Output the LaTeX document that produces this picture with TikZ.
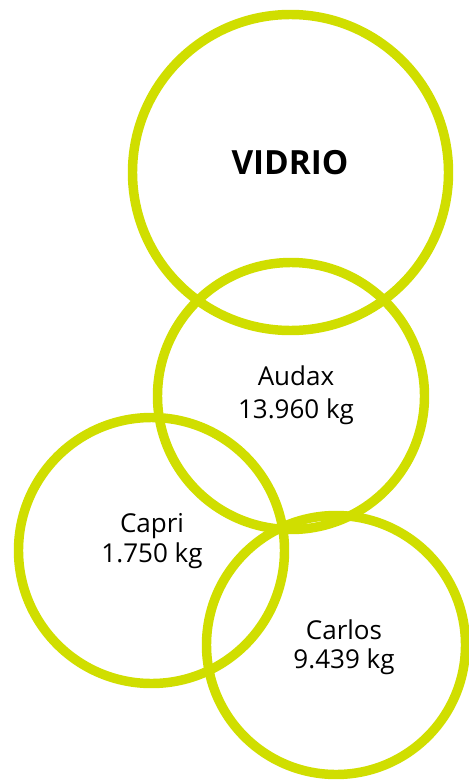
\documentclass[tikz,border=0pt]{standalone}
\usepackage{fontspec}
\setmainfont{Open Sans}
\definecolor{vidriogreen}{RGB}{208,222,0}
\tikzset{
    ring/.style={draw=vidriogreen, line width=7.1pt, circle, inner sep=0pt},
    amount/.style={align=center, font=\fontsize{19.5}{22}\selectfont}
}

\begin{document}
\begin{tikzpicture}[x=0.75pt,y=-0.75pt]
\useasboundingbox (0,0) rectangle (468,781);

\node[ring, minimum size=237pt] (vidrio) at (290.5,172.5) {};
\node[ring, minimum size=200.25pt] (audax) at (291,396) {};
\node[ring, minimum size=199.5pt] (capri) at (151.5,550.5) {};
\node[ring, minimum size=194.25pt] (carlos) at (336,645) {};

\node[font=\fontsize{25}{30}\bfseries] (vidriotext) at (290,163) {VIDRIO};
\node[amount, font=\fontsize{19.5}{25}\selectfont] (audaxtext) at (296,395.5) {Audax\\13.960 kg};
\node[amount] (capritext) at (152,541) {Capri\\1.750 kg};
\node[amount] (carlostext) at (344,647) {Carlos\\9.439 kg};

\end{tikzpicture}
\end{document}
